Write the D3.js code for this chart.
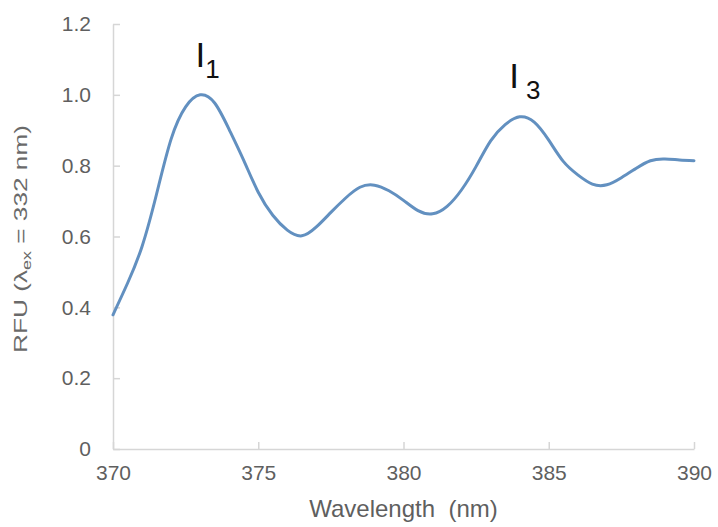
<!DOCTYPE html>
<html>
<head>
<meta charset="utf-8">
<script src="https://cdn.jsdelivr.net/npm/d3@7"></script>
<style>
  html, body { margin: 0; padding: 0; background: #fff; }
  svg { display: block; font-family: "Liberation Sans", Arial, Helvetica, sans-serif; }
</style>
</head>
<body>
<svg id="chart" width="718" height="527"></svg>
<script>
// Emission spectrum, excitation at 332 nm
const wavelength = [370.0, 370.5, 371.0, 371.5, 372.0, 372.5, 373.0, 373.5, 374.0, 374.5,
                    375.0, 375.5, 376.0, 376.5, 377.0, 377.5, 378.0, 378.5, 379.0, 379.5,
                    380.0, 380.5, 381.0, 381.5, 382.0, 382.5, 383.0, 383.5, 384.0, 384.5,
                    385.0, 385.5, 386.0, 386.5, 387.0, 387.5, 388.0, 388.5, 389.0, 389.5, 390.0];
const rfu = [0.379, 0.468, 0.572, 0.720, 0.875, 0.966, 1.000, 0.977, 0.902, 0.815,
             0.725, 0.660, 0.618, 0.602, 0.627, 0.668, 0.708, 0.739, 0.745, 0.729,
             0.702, 0.673, 0.664, 0.685, 0.732, 0.798, 0.870, 0.916, 0.938, 0.923,
             0.872, 0.812, 0.774, 0.748, 0.746, 0.766, 0.792, 0.814, 0.819, 0.816, 0.814];

const xTicks = [370, 375, 380, 385, 390];
const yTicks = [0, 0.2, 0.4, 0.6, 0.8, 1.0, 1.2];
const yTickLabels = ["0", "0.2", "0.4", "0.6", "0.8", "1.0", "1.2"];

// Vibronic peak annotations (I1, I3), anchored in data units
const peakNames = ["I", "I"];
const peakSubs = ["1", "3"];
const peakAt = [372.84, 383.64];
const peakLevel = [1.079, 1.020];

const svg = d3.select("#chart");
const plot = { left: 113, right: 694, top: 24, bottom: 449 };
const subOffset = [0, 7];

const x = d3.scaleLinear().domain([370, 390]).range([plot.left, plot.right]);
const y = d3.scaleLinear().domain([0, 1.2]).range([plot.bottom, plot.top]);

const axisColor = "#d6d6d6";
const labelColor = "#5f5f5f";

// Y axis: light line, short inward ticks
const yAxis = d3.axisLeft(y)
  .tickValues(yTicks)
  .tickSizeInner(-7)
  .tickSizeOuter(0)
  .tickPadding(22)
  .tickFormat((d, i) => yTickLabels[i]);

const gy = svg.append("g").attr("transform", `translate(${plot.left},0)`).call(yAxis);
gy.select(".domain").attr("stroke", axisColor).attr("stroke-width", 1.5);
gy.selectAll(".tick line").attr("stroke", axisColor).attr("stroke-width", 1.5);
gy.selectAll(".tick text")
  .attr("fill", labelColor)
  .attr("font-size", 21)
  .attr("font-family", "Liberation Sans, Arial, sans-serif");

// X axis
const xAxis = d3.axisBottom(x)
  .tickValues(xTicks)
  .tickSizeInner(-7)
  .tickSizeOuter(0)
  .tickPadding(16)
  .tickFormat(d3.format("d"));

const gx = svg.append("g").attr("transform", `translate(0,${plot.bottom})`).call(xAxis);
gx.select(".domain").attr("stroke", axisColor).attr("stroke-width", 1.5);
gx.selectAll(".tick line").attr("stroke", axisColor).attr("stroke-width", 1.5);
gx.selectAll(".tick text")
  .attr("fill", labelColor)
  .attr("font-size", 21)
  .attr("font-family", "Liberation Sans, Arial, sans-serif");

// Spectrum line, smoothed with a natural cubic spline
const line = d3.line()
  .x((d, i) => x(wavelength[i]))
  .y(d => y(d))
  .curve(d3.curveNatural);

svg.append("path")
  .datum(rfu)
  .attr("fill", "none")
  .attr("stroke", "#6290c0")
  .attr("stroke-width", 3)
  .attr("stroke-linejoin", "round")
  .attr("stroke-linecap", "round")
  .attr("d", line);

// Axis titles
svg.append("text")
  .attr("x", (plot.left + plot.right) / 2)
  .attr("y", 517)
  .attr("text-anchor", "middle")
  .attr("fill", labelColor)
  .attr("font-size", 24)
  .text("Wavelength\u00a0\u00a0(nm)");

const yTitle = svg.append("text")
  .attr("transform", "translate(27,239) rotate(-90)")
  .attr("text-anchor", "middle")
  .attr("fill", "#6a6a6a")
  .attr("font-size", 19)
  .attr("textLength", 228)
  .attr("lengthAdjust", "spacingAndGlyphs");
yTitle.append("tspan").text("RFU (\u03bb");
yTitle.append("tspan").attr("font-size", 13).attr("dy", 4).text("ex");
yTitle.append("tspan").attr("dy", -4).text(" = 332 nm)");

// Peak labels
peakNames.forEach((name, i) => {
  const t = svg.append("text")
    .attr("x", x(peakAt[i]))
    .attr("y", y(peakLevel[i]))
    .attr("fill", "#111")
    .attr("font-size", 35);
  t.append("tspan").text(name);
  t.append("tspan").attr("font-size", 26).attr("dx", subOffset[i]).attr("dy", 11).text(peakSubs[i]);
});
</script>
</body>
</html>
